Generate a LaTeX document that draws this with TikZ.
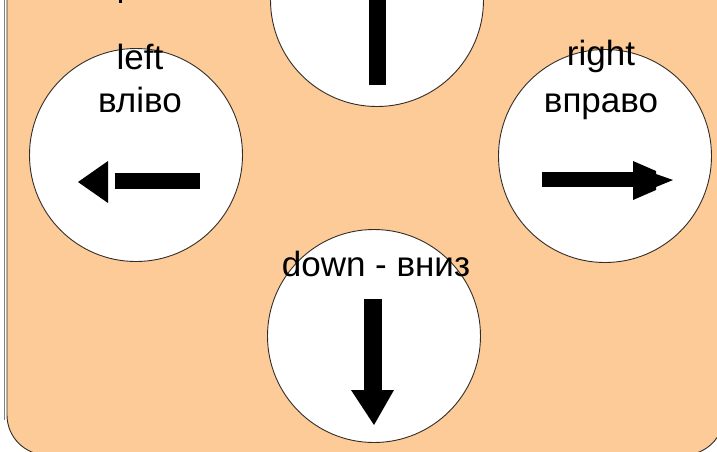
\documentclass[tikz,border=0pt]{standalone}
\usepackage{fontspec}
\setmainfont{Liberation Sans}
\usepackage{xcolor}
\usepackage{tikz}
\definecolor{peach}{RGB}{252,203,152}
\definecolor{rim}{RGB}{50,45,40}
\tikzset{
  knob/.style={circle,draw=rim,line width=0.9pt,fill=white,minimum size=213pt,inner sep=0pt},
  word/.style={anchor=base,inner sep=0pt,font=\fontsize{35}{40}\selectfont}
}

\begin{document}
\begin{tikzpicture}[x=1pt,y=-1pt]
\useasboundingbox (0,0) rectangle (717,451);
\draw[gray,line width=0.8pt] (4,0) -- (4,420); % frame
\draw[rim,fill=peach,line width=0.9pt,rounded corners=40pt] (7,-60) rectangle (724,455); % panel
\fill[black] (119,0) rectangle (122,3);
\node[knob] (up) at (377,0) {}; % up
\node[knob] (left) at (136,155) {}; % left
\node[knob] (right) at (605,156) {}; % right
\node[knob] (down) at (374,336) {}; % down
\fill[black] (369,0) rectangle (386,85); % up arrow
\fill[black] (115,173) rectangle (200,189); % left arrow
\fill[black] (108,161) -- (78,182) -- (108,203) -- cycle;
\fill[black] (542,172) rectangle (637,187); % right arrow
\fill[black] (633,161) -- (656,171) -- (656,174) -- (673,180) -- (656,187) -- (656,190) -- (633,200) -- cycle;
\fill[black] (364,299) rectangle (382,392); % down arrow
\fill[black] (351,390) -- (394,390) -- (374,425) -- cycle;
\node[word] (leftEn) at (140,69) {left};
\node[word] (leftUa) at (140,112) {вліво};
\node[word] (rightEn) at (601,65) {right};
\node[word] (rightUa) at (601,112) {вправо};
\node[word] (downTxt) at (376,276) {down - вниз};
\end{tikzpicture}
\end{document}
